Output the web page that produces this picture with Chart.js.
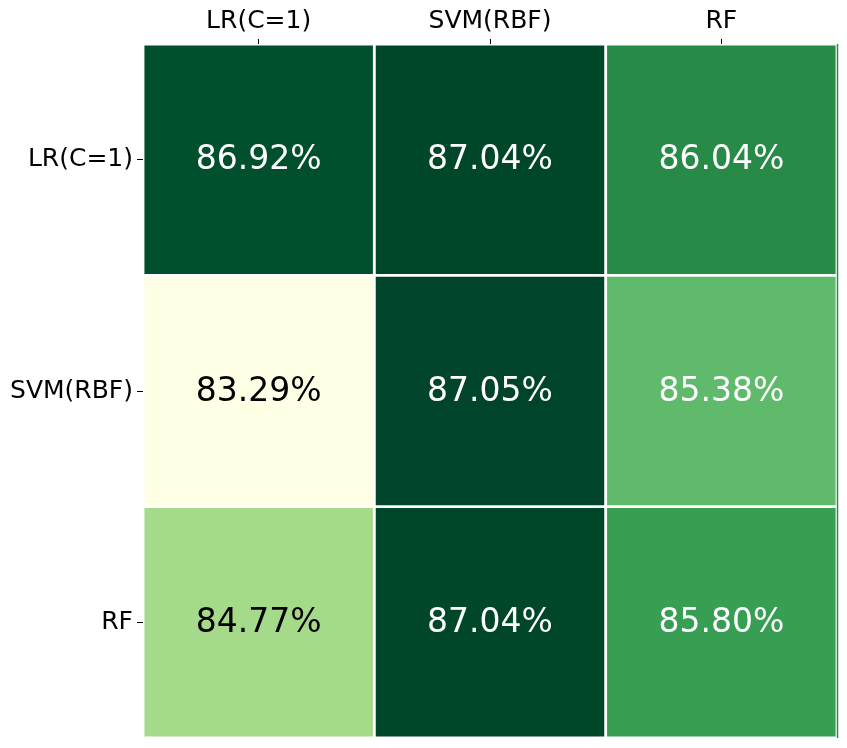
<!DOCTYPE html>
<html>
<head>
<meta charset="utf-8">
<script src="https://cdn.jsdelivr.net/npm/chart.js@4"></script>
<style>
  body { margin: 0; background: #fff; }
  canvas { display: block; }
</style>
</head>
<body>
<canvas id="heat" width="847" height="748"></canvas>
<script>
// row / column labels and the cell values (percent)
var rowLabels = ['LR(C=1)', 'SVM(RBF)', 'RF'];
var colLabels = ['LR(C=1)', 'SVM(RBF)', 'RF'];
var rowLR  = [86.92, 87.04, 86.04];
var rowSVM = [83.29, 87.05, 85.38];
var rowRF  = [84.77, 87.04, 85.80];
var allRows = [rowLR, rowSVM, rowRF];

// YlGn colormap, same as matplotlib
var ylgn = ['#ffffe5', '#f7fcb9', '#d9f0a3', '#addd8e', '#78c679', '#41ab5d', '#238443', '#006837', '#004529'];
function hexToRgb(h) {
  return [parseInt(h.substr(1, 2), 16), parseInt(h.substr(3, 2), 16), parseInt(h.substr(5, 2), 16)];
}
var allVals = [].concat(rowLR, rowSVM, rowRF);
var vmin = Math.min.apply(null, allVals);
var vmax = Math.max.apply(null, allVals);
function colorFor(v) {
  var t = (v - vmin) / (vmax - vmin);
  var p = t * (ylgn.length - 1);
  var i = Math.min(Math.floor(p), ylgn.length - 2);
  var f = p - i;
  var a = hexToRgb(ylgn[i]), b = hexToRgb(ylgn[i + 1]);
  var c = a.map(function (x, k) { return Math.round(x + (b[k] - x) * f); });
  return 'rgb(' + c.join(',') + ')';
}
function textColorFor(v) {
  return (v - vmin) / (vmax - vmin) < 0.5 ? '#000' : '#fff';
}

var BORDER = 1.75; // half of the white gap between cells

// one floating-bar dataset per row, all sharing the full column width
var datasets = allRows.map(function (vals, r) {
  return {
    label: rowLabels[r],
    data: vals.map(function () { return [r - 0.5, r + 0.5]; }),
    values: vals,
    backgroundColor: vals.map(colorFor),
    borderColor: '#fff',
    borderWidth: BORDER,
    borderSkipped: false,
    grouped: false,
    barPercentage: 1,
    categoryPercentage: 1
  };
});

// write the percentage in every cell
var cellText = {
  id: 'cellText',
  afterDatasetsDraw: function (chart) {
    var ctx = chart.ctx;
    ctx.save();
    ctx.font = '33px "DejaVu Sans"';
    ctx.textAlign = 'center';
    ctx.textBaseline = 'middle';
    chart.data.datasets.forEach(function (ds, di) {
      chart.getDatasetMeta(di).data.forEach(function (bar, i) {
        var v = ds.values[i];
        var y = (bar.y + bar.base) / 2;
        ctx.fillStyle = textColorFor(v);
        ctx.fillText(v.toFixed(2) + '%', bar.x, y + 1);
      });
    });
    // thin edge line at the right side
    var a = chart.chartArea;
    ctx.strokeStyle = '#2e8b4d';
    ctx.lineWidth = 1.5;
    ctx.beginPath();
    ctx.moveTo(a.right + 0.5, a.top);
    ctx.lineTo(a.right + 0.5, a.bottom);
    ctx.stroke();
    ctx.restore();
  }
};

var ctx = document.getElementById('heat').getContext('2d');
var heat = new Chart(ctx, {
  type: 'bar',
  data: { labels: colLabels, datasets: datasets },
  options: {
    responsive: false,
    animation: false,
    layout: { padding: { left: 0, right: 10, top: 0, bottom: 10 } },
    plugins: { legend: { display: false }, tooltip: { enabled: false } },
    scales: {
      x: {
        position: 'top',
        offset: true,
        grid: { drawOnChartArea: false, drawTicks: true, tickLength: 5, color: '#000', offset: false },
        border: { display: false },
        ticks: { color: '#000', font: { family: 'DejaVu Sans', size: 25 }, padding: 3, maxRotation: 0 },
        afterFit: function (s) { s.height = 44; s.paddingLeft = 0; s.paddingRight = 0; }
      },
      y: {
        type: 'linear',
        min: -0.5,
        max: 2.5,
        reverse: true,
        grid: { drawOnChartArea: false, drawTicks: true, tickLength: 6, color: '#000' },
        border: { display: false },
        afterBuildTicks: function (s) { s.ticks = [0, 1, 2].map(function (v) { return { value: v }; }); },
        ticks: {
          color: '#000',
          font: { family: 'DejaVu Sans', size: 25 },
          padding: 4,
          callback: function (v) { return rowLabels[v]; }
        },
        afterFit: function (s) { s.width = 143; s.paddingTop = 0; s.paddingBottom = 0; }
      }
    }
  },
  plugins: [cellText]
});
</script>
</body>
</html>
